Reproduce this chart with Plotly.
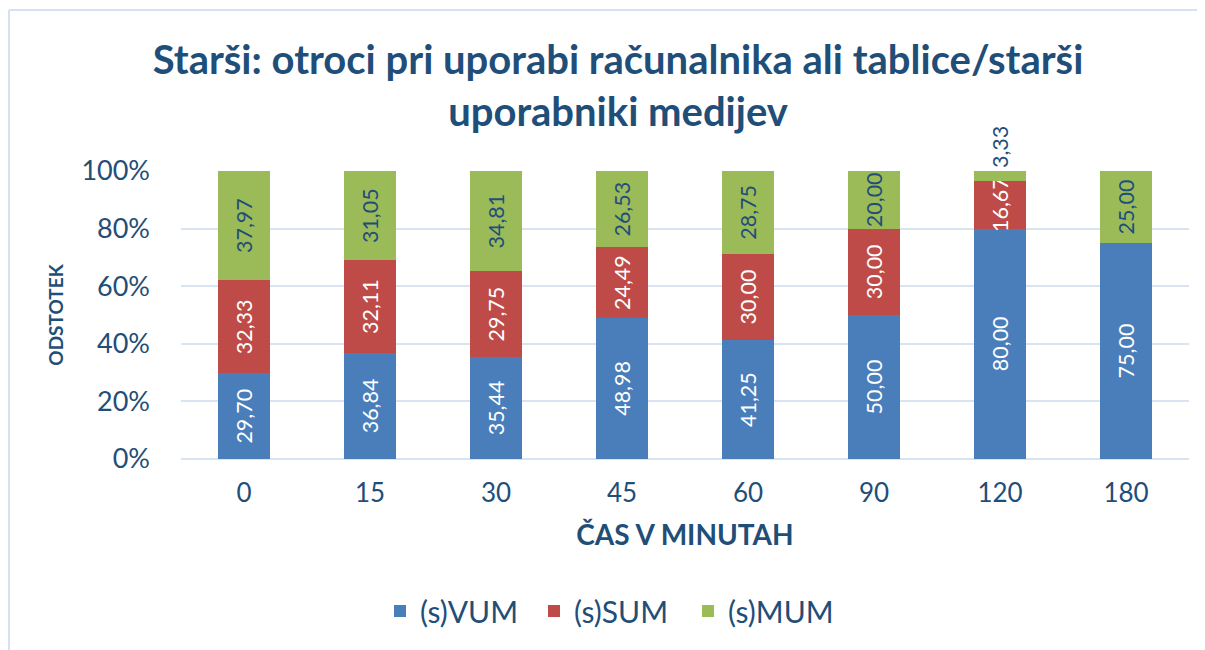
import plotly.graph_objects as go

categories = ["0", "15", "30", "45", "60", "90", "120", "180"]
vum = [29.70, 36.84, 35.44, 48.98, 41.25, 50.00, 80.00, 75.00]
sum_ = [32.33, 32.11, 29.75, 24.49, 30.00, 30.00, 16.67, 0.00]
mum = [37.97, 31.05, 34.81, 26.53, 28.75, 20.00, 3.33, 25.00]
series_names = ["(s)VUM", "(s)SUM", "(s)MUM"]
y_ticks = [0, 20, 40, 60, 80, 100]
y_ticktext = [f"{v}%" for v in y_ticks]

FONT = "Lato"
DARK = "#1F4E79"
LBL = 21.5


def fmt(vals):
    return [("%.2f" % v).replace(".", ",") if v > 0 else "" for v in vals]


fig = go.Figure()
fig.add_trace(go.Bar(
    x=categories, y=vum, name=series_names[0], text=fmt(vum),
    marker=dict(color="#4A7EBB", line=dict(width=0)),
    textposition="inside", textangle=-90, insidetextanchor="middle",
    constraintext="none",
    textfont=dict(family=FONT, size=LBL, color="white"), cliponaxis=False,
))
fig.add_trace(go.Bar(
    x=categories, y=sum_, name=series_names[1], text=fmt(sum_),
    marker=dict(color="#BE4B48", line=dict(width=0)),
    textposition="inside", textangle=-90, insidetextanchor="middle",
    constraintext="none",
    textfont=dict(family=FONT, size=LBL, color="white"), cliponaxis=False,
))
green_pos = ["outside" if v < 6 else "inside" for v in mum]
fig.add_trace(go.Bar(
    x=categories, y=mum, name=series_names[2], text=fmt(mum),
    marker=dict(color="#9BBB59", line=dict(width=0)),
    textposition=green_pos, textangle=-90, insidetextanchor="middle",
    constraintext="none",
    textfont=dict(family=FONT, size=LBL, color=DARK),
    outsidetextfont=dict(family=FONT, size=LBL, color=DARK),
    cliponaxis=False,
))

# the page places the figure 8px from the top-left corner
OFF = 8
W, H = 1205 - OFF, 650 - OFF
L, R, T, B = 181 - OFF, 16, 171 - OFF, 650 - 459
pw, ph = W - L - R, H - T - B


def px_x(p):
    return (p - OFF - L) / pw


def px_y(p):
    return (H - B - (p - OFF)) / ph


border = "#D6E2F2"
shapes = [
    dict(type="line", xref="paper", yref="paper",
         x0=px_x(9), x1=px_x(1260), y0=px_y(10), y1=px_y(10),
         line=dict(color=border, width=2), layer="below"),
    dict(type="line", xref="paper", yref="paper",
         x0=px_x(9), x1=px_x(9), y0=px_y(10), y1=px_y(700),
         line=dict(color=border, width=2), layer="below"),
]

fig.update_layout(
    width=W, height=H,
    margin=dict(l=L, r=R, t=T, b=B, autoexpand=False),
    barmode="stack", bargap=0.587,
    plot_bgcolor="white", paper_bgcolor="white",
    font=dict(family=FONT, color=DARK),
    title=dict(
        text="<b>Starši: otroci pri uporabi računalnika ali tablice/starši<br>uporabniki medijev</b>",
        font=dict(family=FONT, size=40, color=DARK),
        x=px_x(618), xref="paper", xanchor="center",
        y=1 - (74 - OFF) / H, yref="container", yanchor="middle",
    ),
    xaxis=dict(
        title=dict(text="<b>ČAS V MINUTAH</b>", font=dict(family=FONT, size=28, color=DARK), standoff=18),
        tickfont=dict(family=FONT, size=26, color=DARK),
        showgrid=False, showline=False, zeroline=False,
        ticks="", ticklabelstandoff=16,
    ),
    yaxis=dict(
        title=dict(text="<b>ODSTOTEK</b>", font=dict(family=FONT, size=19, color=DARK), standoff=12),
        range=[0, 100], tickmode="array", tickvals=y_ticks, ticktext=y_ticktext,
        tickfont=dict(family=FONT, size=27, color=DARK),
        showgrid=True, gridcolor="#D9E4F3", gridwidth=1.5,
        zeroline=True, zerolinecolor="#D9E4F3", zerolinewidth=2,
        showline=False, ticks="", ticklabelstandoff=30,
    ),
    legend=dict(
        orientation="h", x=px_x(380), xanchor="left",
        y=px_y(611), yanchor="middle",
        font=dict(family=FONT, size=30, color=DARK),
        traceorder="normal", itemwidth=30,
        entrywidth=109, entrywidthmode="pixels",
    ),
    shapes=shapes,
)

fig.write_html("out.html")
